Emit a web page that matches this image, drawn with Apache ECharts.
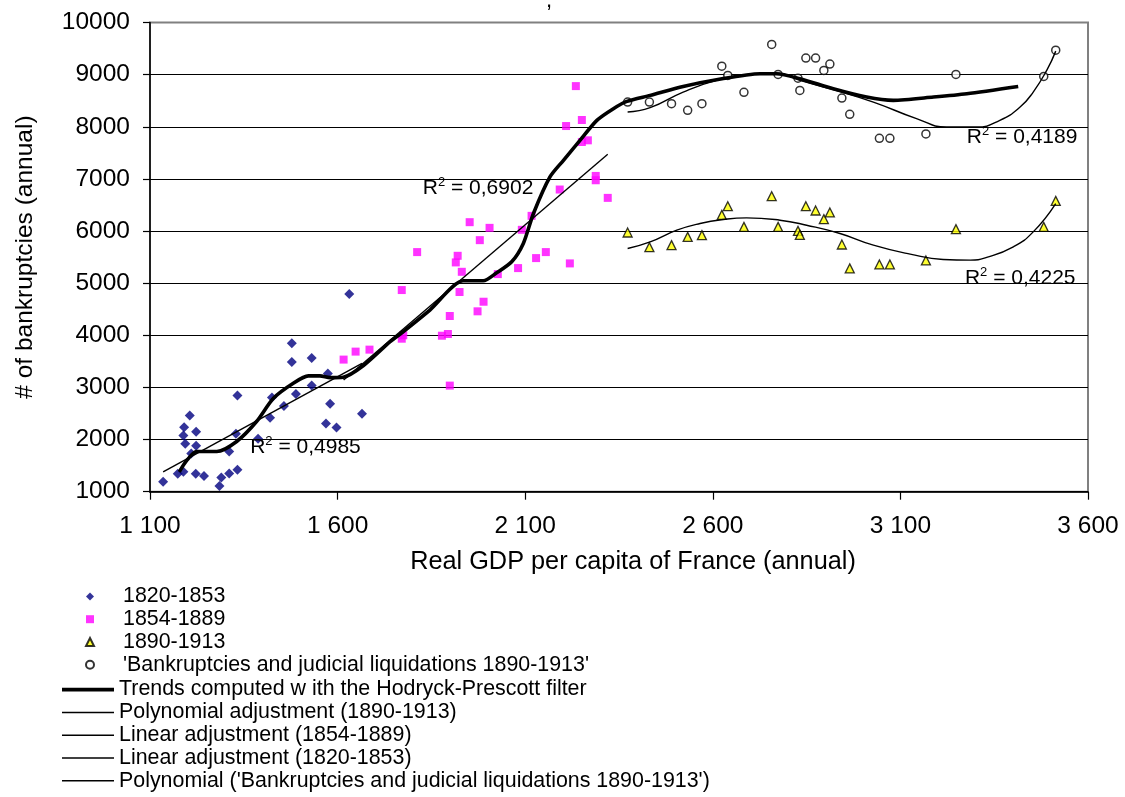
<!DOCTYPE html>
<html><head><meta charset="utf-8">
<script src="https://cdn.jsdelivr.net/npm/echarts@6/dist/echarts.min.js"></script>
<style>html,body{margin:0;padding:0;background:#fff}#c{width:1125px;height:797px}</style>
</head><body><div id="c"></div>
<script>
// ---- data ----
const gdp1820 = [1135,1174,1189,1189,1191,1194,1206,1210,1223,1223,1222,1244,1285,1290,1311,1311,1333,1333,1329,1388,1420,1425,1457,1478,1478,1489,1531,1531,1574,1580,1569,1597,1631,1665];
const bank1820 = [1191,1344,1383,2078,2238,1919,2461,1733,2149,1880,1344,1300,1109,1274,1771,1350,1420,2843,2110,2014,2417,2805,2646,3847,3489,2876,3566,3035,3265,2685,2308,2231,4791,2493];

const gdp1854 = [1616,1648,1685,1771,1771,1775,1812,1878,1894,1899,1899,1915,1920,1931,1925,1952,1979,1973,1989,2005,2027,2081,2091,2117,2129,2155,2192,2209,2219,2235,2251,2251,2267,2288,2288,2320];
const bank1854 = [3534,3687,3725,4868,3935,4000,5596,3992,4025,4370,3035,5398,5525,5218,4830,6170,5825,4460,4644,6061,5174,5289,6023,6291,5481,5596,6796,8014,5379,8780,8130,7708,7740,7057,6974,6636];

const gdp1890 = [2373,2431,2490,2533,2571,2624,2640,2683,2757,2774,2827,2832,2848,2874,2896,2912,2944,2965,3044,3072,3168,3248,3482,3514];
const bank1890 = [5972,5691,5729,5888,5921,6310,6476,6080,6668,6080,6003,5927,6476,6394,6228,6356,5742,5283,5359,5359,5436,6036,6080,6578];
const bankLiq1890 = [8474,8474,8443,8315,8443,9163,8985,8660,9579,9004,8933,8698,9317,9317,9081,9202,8551,8238,7779,7779,7862,9004,8966,9470];

const hpTrend = [[1178,1380],[1198,1600],[1224,1771],[1278,1771],[1331,1963],[1384,2346],[1429,2793],[1482,3081],[1522,3221],[1553,3221],[1580,3188],[1615,3196],[1669,3420],[1740,3878],[1758,3973],[1846,4485],[1935,5046],[1988,5046],[2024,5199],[2064,5410],[2095,5762],[2122,6337],[2166,7038],[2202,7357],[2246,7740],[2291,8123],[2335,8347],[2371,8487],[2433,8602],[2521,8774],[2610,8903],[2726,9018],[2770,9018],[2832,8922],[2921,8730],[3010,8570],[3081,8506],[3188,8570],[3277,8634],[3414,8774]];
const polyTri = [[2373,5666],[2433,5793],[2504,6017],[2566,6145],[2628,6221],[2690,6252],[2779,6208],[2850,6112],[2939,5953],[3028,5729],[3126,5557],[3214,5455],[3286,5442],[3330,5494],[3401,5697],[3454,5984],[3514,6527]];
const polyCirc = [[2373,8283],[2433,8366],[2521,8666],[2610,8889],[2699,9004],[2770,9029],[2832,8889],[2921,8711],[3028,8474],[3143,8156],[3223,7995],[3303,7995],[3365,8123],[3419,8378],[3454,8666],[3490,9081],[3514,9451]];
const lin1854 = [[1616,3142],[2320,7472]];
const lin1820 = [[1135,1380],[1665,3460]];

const r2Values = ['0,4985','0,6902','0,4225','0,4189'];
const r2Anchors = [[1367,1857],[1827,6819],[3272,5093],[3277,7797]];

const seriesNames = ['1820-1853','1854-1889','1890-1913',"'Bankruptcies and judicial liquidations 1890-1913'",
  'Trends computed w ith the Hodryck-Prescott filter','Polynomial adjustment (1890-1913)',
  'Linear adjustment (1854-1889)','Linear adjustment (1820-1853)',"Polynomial ('Bankruptcies and judicial liquidations 1890-1913')"];

const xMin = 1100, xMax = 3600, xStep = 500;
const yMin = 1000, yMax = 10000, yStep = 1000;

// ---- chart ----
const FONT = 'Liberation Sans, Arial, sans-serif';
const zip = (a, b) => a.map((v, i) => [v, b[i]]);
function r2Mark(i) {
  return {
    symbol: 'circle', symbolSize: 0, silent: true,
    itemStyle: {color: 'transparent'},
    data: [{coord: r2Anchors[i]}],
    label: {
      show: true, position: 'right', distance: 0,
      formatter: '{a|R}{s|2}{a| = ' + r2Values[i] + '}',
      rich: {
        a: {fontSize: 21, fontFamily: FONT, color: '#000', lineHeight: 24},
        s: {fontSize: 13, fontFamily: FONT, color: '#000', verticalAlign: 'top', lineHeight: 14}
      }
    }
  };
}
const splitColors = [];
for (let v = yMin; v <= yMax; v += yStep) splitColors.push(v === yMax ? '#808080' : '#000');

const ROW = 22.8, LEG_TOP = 585;
const legendText = {fontSize: 21.4, fontFamily: FONT, color: '#000', lineHeight: ROW};

const chart = echarts.init(document.getElementById('c'), null, {renderer: 'canvas'});
const thinLine = {color: '#000', width: 1.4};
const lineIcon = 'path://M0,0H52V1.5H0Z';
chart.setOption({
  animation: false,
  backgroundColor: '#fff',
  textStyle: {fontFamily: FONT, color: '#000'},
  grid: {left: 150, right: 37, top: 22.5, bottom: 305.3, show: true, borderColor: '#808080', borderWidth: 2, backgroundColor: '#fff'},
  graphic: [{type: 'text', left: 546, top: -10, style: {text: ',', fontSize: 22, fontFamily: FONT, fill: '#000'}}],
  xAxis: {
    type: 'value', min: xMin, max: xMax, interval: xStep,
    name: 'Real GDP per capita of France (annual)', nameLocation: 'middle', nameGap: 58,
    nameTextStyle: {fontSize: 25.3, fontFamily: FONT, color: '#000', padding: [0, 0, 0, 28]},
    axisLine: {show: true, onZero: false, lineStyle: {color: '#000', width: 1.5}},
    axisTick: {show: true, inside: false, length: 8, lineStyle: {color: '#000', width: 1.2}},
    axisLabel: {fontSize: 24.5, fontFamily: FONT, color: '#000', margin: 22,
      formatter: v => Math.floor(v / 1000) + ' ' + String(v % 1000).padStart(3, '0')},
    splitLine: {show: false}
  },
  yAxis: {
    type: 'value', min: yMin, max: yMax, interval: yStep,
    name: '# of bankruptcies (annual)', nameLocation: 'middle', nameGap: 112, nameRotate: 90,
    nameTextStyle: {fontSize: 24.5, fontFamily: FONT, color: '#000'},
    axisLine: {show: true, onZero: false, lineStyle: {color: '#000', width: 1.5}},
    axisTick: {show: true, inside: false, length: 7, lineStyle: {color: '#000', width: 1.2}},
    axisLabel: {fontSize: 24.5, fontFamily: FONT, color: '#000', margin: 20, formatter: v => String(v)},
    splitLine: {show: true, lineStyle: {color: splitColors, width: 1}}
  },
  legend: [
    {
      orient: 'vertical', left: 85, top: LEG_TOP, padding: 0,
      itemWidth: 8, itemHeight: 8, itemGap: 0, selectedMode: false,
      textStyle: Object.assign({}, legendText, {padding: [0, 0, 0, 24]}),
      data: [
        {name: seriesNames[0], icon: 'diamond'}, {name: seriesNames[1], icon: 'rect'},
        {name: seriesNames[2], icon: 'triangle'}, {name: seriesNames[3], icon: 'circle'}
      ]
    },
    {
      orient: 'vertical', left: 62, top: LEG_TOP + 4 * ROW + 2, padding: 0,
      itemWidth: 52, itemHeight: 8, itemGap: 0, selectedMode: false,
      textStyle: legendText,
      data: [
        {name: seriesNames[4], icon: 'path://M0,0H52V3.6H0Z', itemStyle: {borderWidth: 0, color: '#000'}},
        {name: seriesNames[5], icon: lineIcon, itemStyle: {borderWidth: 0, color: '#000'}},
        {name: seriesNames[6], icon: lineIcon, itemStyle: {borderWidth: 0, color: '#000'}},
        {name: seriesNames[7], icon: lineIcon, itemStyle: {borderWidth: 0, color: '#000'}},
        {name: seriesNames[8], icon: lineIcon, itemStyle: {borderWidth: 0, color: '#000'}}
      ]
    }
  ],
  series: [
    {name: seriesNames[0], type: 'scatter', data: zip(gdp1820, bank1820), symbol: 'diamond', symbolSize: 10,
      itemStyle: {color: '#000080'}, z: 3},
    {name: seriesNames[1], type: 'scatter', data: zip(gdp1854, bank1854), symbol: 'rect', symbolSize: 8,
      itemStyle: {color: '#FF00FF'}, z: 3},
    {name: seriesNames[2], type: 'scatter', data: zip(gdp1890, bank1890), symbol: 'triangle', symbolSize: 9,
      itemStyle: {color: '#FFFF00', borderColor: '#000', borderWidth: 1.3}, z: 3},
    {name: seriesNames[3], type: 'scatter', data: zip(gdp1890, bankLiq1890), symbol: 'circle', symbolSize: 8,
      itemStyle: {color: '#fff', borderColor: '#000', borderWidth: 1.5}, z: 3},
    {name: seriesNames[4], type: 'line', data: hpTrend, symbol: 'none', smooth: 0.25, color: '#000',
      lineStyle: {color: '#000', width: 3.6}, z: 4},
    {name: seriesNames[5], type: 'line', data: polyTri, symbol: 'none', smooth: true, color: '#000',
      lineStyle: thinLine, markPoint: r2Mark(2), z: 4},
    {name: seriesNames[6], type: 'line', data: lin1854, symbol: 'none', color: '#000',
      lineStyle: thinLine, markPoint: r2Mark(1), z: 4},
    {name: seriesNames[7], type: 'line', data: lin1820, symbol: 'none', color: '#000',
      lineStyle: thinLine, markPoint: r2Mark(0), z: 4},
    {name: seriesNames[8], type: 'line', data: polyCirc, symbol: 'none', smooth: true, color: '#000',
      lineStyle: thinLine, markPoint: r2Mark(3), z: 4}
  ]
});
</script>
</body></html>
